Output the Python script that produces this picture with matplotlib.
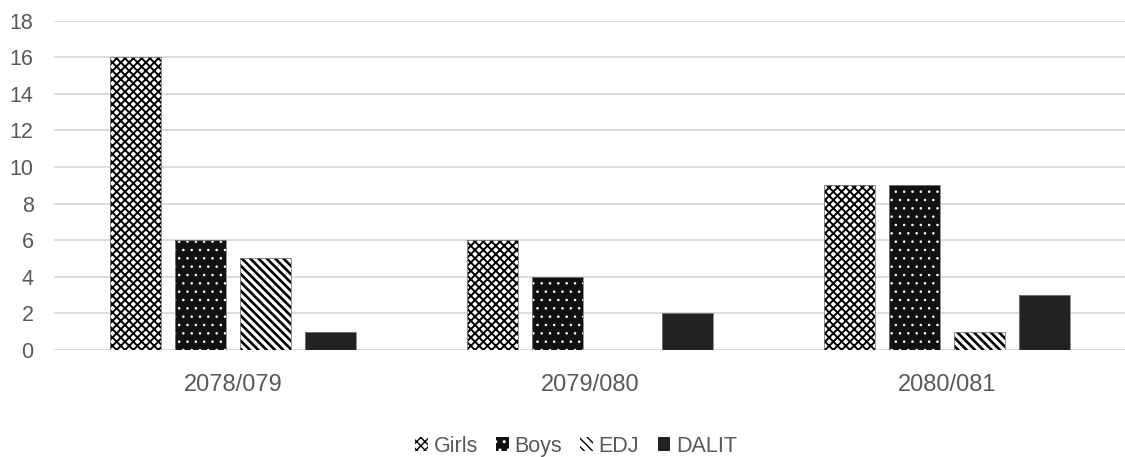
import matplotlib
matplotlib.use("Agg")
import matplotlib.pyplot as plt
import numpy as np

plt.rcParams['font.family'] = ['Liberation Sans', 'DejaVu Sans']

years = ["2078/079", "2079/080", "2080/081"]
series_names = ["Girls", "Boys", "EDJ", "DALIT"]
girls = [16, 6, 9]
boys = [6, 4, 9]
edj = [5, 0, 1]
dalit = [1, 2, 3]
y_ticks = [0, 2, 4, 6, 8, 10, 12, 14, 16, 18]

values = [girls, boys, edj, dalit]
styles = [
    dict(facecolor="white", edgecolor="black", hatch="xxxx"),
    dict(facecolor="#111111", edgecolor="white", hatch=".."),
    dict(facecolor="white", edgecolor="black", hatch="\\\\\\\\"),
    dict(facecolor="#222222", edgecolor="#222222", hatch=None),
]
hatch_widths = [1.4, 0.6, 1.9, 1.0]

fig = plt.figure(figsize=(11.25, 4.57), dpi=100)
ax = fig.add_axes([0.0484, 0.2341, 0.952, 0.7210])

x = np.arange(len(years))
width = 0.143
step = 0.182
offsets = (np.arange(4) - 1.5) * step

handles = []
for vals, off, st, name, hw in zip(values, offsets, styles, series_names, hatch_widths):
    with plt.rc_context({'hatch.linewidth': hw}):
        bars = ax.bar(x + off, vals, width=width, linewidth=0, label=name, zorder=3, **st)
    # thin grey outline drawn separately so the hatch colour stays independent
    ax.bar(x + off, vals, width=width, facecolor="none",
           edgecolor="#7f7f7f", linewidth=0.6, zorder=4)
    handles.append(bars)

ax.set_xlim(-0.5, 2.5)
ax.set_ylim(0, 18)
ax.set_yticks(y_ticks)
ax.set_xticks(x)
ax.set_xticklabels(years)
ax.yaxis.grid(True, color="#d9d9d9", linewidth=1.3, zorder=0)
ax.set_axisbelow(True)
for s in ax.spines.values():
    s.set_visible(False)
ax.axhline(0, color="#d9d9d9", linewidth=1.3, zorder=2)
ax.tick_params(axis="both", length=0, colors="#595959")
ax.tick_params(axis="y", labelsize=15.5, pad=15)
ax.tick_params(axis="x", labelsize=17, pad=17)

leg = fig.legend(handles, series_names, loc="center", bbox_to_anchor=(0.512, 0.024),
                 ncol=4, frameon=False, fontsize=15.5, handlelength=0.6, handleheight=0.6,
                 handletextpad=0.25, columnspacing=0.85, labelcolor="#595959",
                 borderpad=0, borderaxespad=0)

fig.savefig("out.png", dpi=100)
